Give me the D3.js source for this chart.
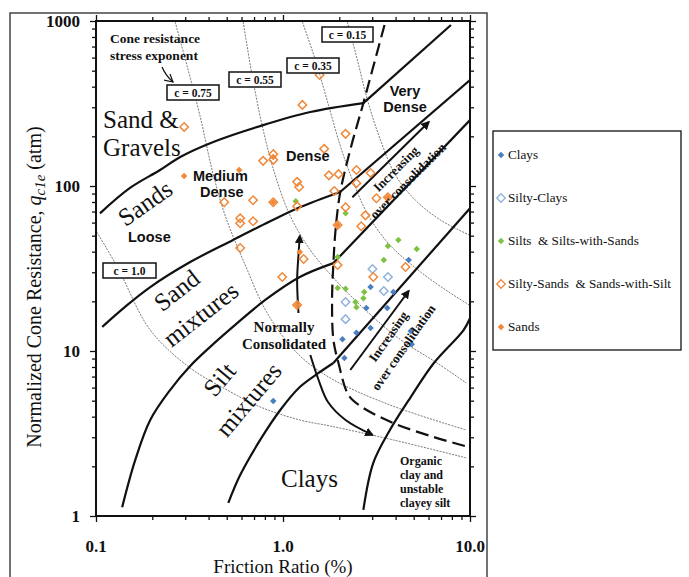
<!DOCTYPE html>
<html>
<head>
<meta charset="utf-8">
<script src="https://cdnjs.cloudflare.com/ajax/libs/d3/7.8.5/d3.min.js"></script>
<style>
body { margin: 0; background: #fff; }
svg text { font-family: "Liberation Serif", "Times New Roman", serif; fill: #111; }
.sans { font-family: "Liberation Sans", Arial, sans-serif !important; font-weight: bold; }
.bold { font-weight: bold; }
</style>
</head>
<body>
<div id="chart"></div>
<script>
// chart values: [friction ratio %, normalized cone resistance atm]
var clays = [[4.70,35.6],[2.94,24.4],[3.89,22.8],[2.79,18.2],[3.61,18.2],[2.94,13.8],
  [2.47,12.9],[2.08,11.8],[2.13,9.07],[4.82,13.2],[4.88,11.0],[0.887,4.98]];
var siltyClays = [[3.01,31.4],[3.64,28.1],[3.46,23.1],[2.16,19.8],[2.16,15.6]];
var silts = [[1.17,80.8],[2.16,68.3],[1.96,37.1],[3.64,43.3],[4.14,47.1],[5.19,41.5],
  [3.46,35.6],[1.96,24.1],[2.16,23.8],[2.72,22.8],[2.69,20.9],[2.44,19.8],[2.47,18.4]];
var siltySands = [[0.296,228],[1.27,310],[1.57,471],[2.16,207],[1.66,168],[0.783,142],
  [0.887,156],[0.887,144],[1.19,106],[1.22,98.6],[1.76,116],[1.98,118],[2.47,125],
  [2.94,120],[1.88,93.3],[2.47,104],[3.16,84.3],[3.64,85.5],[2.16,74.3],[2.76,66.4],
  [1.96,58.0],[2.62,57.0],[0.485,79.7],[0.692,82.0],[0.887,79.7],[1.19,75.3],
  [0.590,63.7],[0.590,59.5],[0.692,61.1],[0.590,42.1],[1.29,36.1],[0.991,28.1],
  [1.19,19.0],[1.96,33.2],[3.04,28.1],[4.52,32.3]];
var sands = [[0.296,115],[0.583,125],[0.887,150],[0.887,79.7],[1.23,39.8],
  [1.19,19.0],[3.64,85.5],[1.96,58.0]];

// zone boundaries
var sandGravel = [[0.105,68.3],[0.152,97.3],[0.220,125],[0.282,150],[0.424,185],[0.783,234],[1.40,281],[2.69,318]];
var veryDense = [[2.69,318],[7.91,946]];
var sandsLower = [[0.108,14.0],[0.143,18.5],[0.195,24.4],[0.319,34.6],[0.541,47.1],[0.854,61.1],[1.23,74.3],[2.02,92.0]];
var sandsLowerOC = [[2.02,92.0],[10,439]];
var sandMix = [[0.138,1.13],[0.162,2.18],[0.195,3.82],[0.249,5.80],[0.319,8.11],[0.408,10.6],[0.555,14.4],[0.804,20.4],[1.23,28.1],[1.86,34.1]];
var sandMixOC = [[1.86,34.1],[10,251]];
var siltMix = [[0.510,1.20],[0.590,1.77],[0.755,2.89],[0.967,4.39],[1.23,6.05],[1.55,7.36],[1.86,8.46]];
var siltMixOC = [[1.86,8.46],[10,73.3]];
var organic = [[2.69,1.09],[3.04,2.10],[3.73,3.32],[4.82,5.26],[6.41,8.46],[9.24,13.4],[10,15.8]];
var ncLimit = [[3.49,946],[2.69,318],[2.29,166],[2.02,90.7],[1.91,54.1],[1.86,34.1],[1.83,20.4],
  [1.86,11.7],[1.98,8.46],[2.24,5.41],[2.59,4.64],[3.89,3.66],[6.41,3.01],[9.79,2.62]];

// arrows
var ocUpper = [[2.35,85.5],[6.02,244]];
var ocLower = [[2.29,7.67],[4.70,23.1]];
var ncUp = [[1.21,17.0],[1.19,26.9],[1.21,38.2],[1.23,49.8]];
var ncDown = [[1.40,9.46],[1.55,6.67],[1.74,4.91],[2.16,3.82],[3.01,3.10]];

// cone resistance stress exponent contours
var c100 = [[0.101,52.6],[0.131,31.8],[0.195,13.4],[0.319,7.89],[0.503,5.80],[0.755,4.58],[1.23,3.82],[1.79,3.51],[3.89,2.89],[9.55,2.25]];
var c075 = [[0.265,986],[0.311,505],[0.361,262],[0.418,125],[0.490,66.4],[0.628,33.2],[0.823,17.0],[1.19,9.72],[1.79,6.86],[3.73,4.71],[9.55,3.32]];
var c055 = [[0.613,986],[0.683,471],[0.783,219],[0.909,116],[1.09,66.4],[1.40,40.9],[1.91,26.9],[2.76,17.7],[4.25,11.7],[6.54,8.58],[9.55,6.40]];
var c035 = [[1.27,986],[1.49,580],[1.72,332],[2.02,177],[2.35,109],[2.86,66.4],[3.73,43.9],[5.45,30.1],[7.43,23.4],[9.91,19.0]];
var c015 = [[2.21,986],[2.50,580],[2.83,332],[3.32,190],[4.00,116],[5.11,82.0],[6.98,62.0],[9.91,50.5]];

var xMajor = [0.1, 1, 10];
var xLabels = ["0.1", "1.0", "10.0"];
var yMajor = [1, 10, 100, 1000];
var yLabels = ["1", "10", "100", "1000"];

var legendNames = ["Clays", "Silty-Clays", "Silts  & Silts-with-Sands", "Silty-Sands  & Sands-with-Silt", "Sands"];

var svgWidth = 689;
var svgHeight = 577;
var margin = {top: 21, right: 219, bottom: 61, left: 96};
var width = svgWidth - margin.left - margin.right;
var height = svgHeight - margin.top - margin.bottom;

var svg = d3.select("#chart").append("svg")
    .attr("width", svgWidth)
    .attr("height", svgHeight);

// outer frame
svg.append("path")
    .attr("d", "M10,577V13H487V577")
    .attr("fill", "none").attr("stroke", "#444").attr("stroke-width", 1.5);

var defs = svg.append("defs");
defs.append("marker").attr("id", "head")
    .attr("viewBox", "0 0 10 10").attr("refX", 8).attr("refY", 5)
    .attr("markerWidth", 9).attr("markerHeight", 9).attr("markerUnits", "userSpaceOnUse")
    .attr("orient", "auto")
    .append("path").attr("d", "M0,0L10,5L0,10z").attr("fill", "#111");
defs.append("marker").attr("id", "vhead")
    .attr("viewBox", "0 0 10 10").attr("refX", 9).attr("refY", 5)
    .attr("markerWidth", 9).attr("markerHeight", 9).attr("markerUnits", "userSpaceOnUse")
    .attr("orient", "auto")
    .append("path").attr("d", "M0,0L9,5L0,10").attr("fill", "none").attr("stroke", "#111").attr("stroke-width", 1.3);

var chartGroup = svg.append("g")
    .attr("transform", `translate(${margin.left}, ${margin.top})`);

var x = d3.scaleLog().domain([0.1, 10]).range([0, width]);
var y = d3.scaleLog().domain([1, 1000]).range([height, 0]);

var minorX = [], minorY = [];
[0.1, 1].forEach(function(d) { for (var k = 2; k < 10; k++) minorX.push(d * k); });
[1, 10, 100].forEach(function(d) { for (var k = 2; k < 10; k++) minorY.push(d * k); });

function axisStyle(g) {
    g.select(".domain").remove();
    g.selectAll("line").attr("stroke", "#111").attr("stroke-width", 1.3);
}

// ticks on all four sides
chartGroup.append("g").attr("transform", `translate(0,${height})`)
    .call(d3.axisBottom(x).tickValues(xMajor).tickSize(6).tickFormat("")).call(axisStyle);
chartGroup.append("g").attr("transform", `translate(0,${height})`)
    .call(d3.axisBottom(x).tickValues(minorX).tickSize(4).tickFormat("")).call(axisStyle);
chartGroup.append("g")
    .call(d3.axisTop(x).tickValues(xMajor).tickSize(6).tickFormat("")).call(axisStyle);
chartGroup.append("g")
    .call(d3.axisTop(x).tickValues(minorX).tickSize(4).tickFormat("")).call(axisStyle);
chartGroup.append("g")
    .call(d3.axisLeft(y).tickValues(yMajor).tickSize(6).tickFormat("")).call(axisStyle);
chartGroup.append("g")
    .call(d3.axisLeft(y).tickValues(minorY).tickSize(4).tickFormat("")).call(axisStyle);
chartGroup.append("g").attr("transform", `translate(${width},0)`)
    .call(d3.axisRight(y).tickValues(yMajor).tickSize(6).tickFormat("")).call(axisStyle);
chartGroup.append("g").attr("transform", `translate(${width},0)`)
    .call(d3.axisRight(y).tickValues(minorY).tickSize(4).tickFormat("")).call(axisStyle);

// tick labels
chartGroup.selectAll("text.xlab").data(xMajor).enter().append("text")
    .attr("class", "bold").attr("x", d => x(d)).attr("y", height + 36)
    .attr("text-anchor", "middle").style("font-size", "17px")
    .text((d, i) => xLabels[i]);
chartGroup.selectAll("text.ylab").data(yMajor).enter().append("text")
    .attr("class", "bold").attr("x", -16).attr("y", d => y(d) + 6)
    .attr("text-anchor", "end").style("font-size", "17px")
    .text((d, i) => yLabels[i]);

// contours of stress exponent
var line = d3.line().x(d => x(d[0])).y(d => y(d[1])).curve(d3.curveCatmullRom.alpha(0.5));
var straight = d3.line().x(d => x(d[0])).y(d => y(d[1]));

var clip = defs.append("clipPath").attr("id", "plotclip");
clip.append("rect").attr("width", width).attr("height", height);
var inner = chartGroup.append("g").attr("clip-path", "url(#plotclip)");

[c100, c075, c055, c035, c015].forEach(function(c) {
    inner.append("path").attr("d", line(c))
        .attr("fill", "none").attr("stroke", "#555").attr("stroke-width", 0.8)
        .attr("stroke-dasharray", "2,1.2");
});

// boundaries
[sandGravel, sandsLower, sandMix, siltMix, organic].forEach(function(b) {
    inner.append("path").attr("d", line(b))
        .attr("fill", "none").attr("stroke", "#111").attr("stroke-width", 2.2);
});
[veryDense, sandsLowerOC, sandMixOC, siltMixOC].forEach(function(b) {
    inner.append("path").attr("d", straight(b))
        .attr("fill", "none").attr("stroke", "#111").attr("stroke-width", 2.2);
});
inner.append("path").attr("d", line(ncLimit))
    .attr("fill", "none").attr("stroke", "#111").attr("stroke-width", 2.2)
    .attr("stroke-dasharray", "13,6");

[ocUpper, ocLower].forEach(function(a) {
    inner.append("path").attr("d", straight(a))
        .attr("fill", "none").attr("stroke", "#111").attr("stroke-width", 2)
        .attr("marker-end", "url(#head)");
});
[ncUp, ncDown].forEach(function(a) {
    inner.append("path").attr("d", line(a))
        .attr("fill", "none").attr("stroke", "#111").attr("stroke-width", 2)
        .attr("marker-end", "url(#head)");
});

// frame of plot
chartGroup.append("rect").attr("width", width).attr("height", height)
    .attr("fill", "none").attr("stroke", "#111").attr("stroke-width", 2);

// markers
var openDiamond = d3.symbol().type(d3.symbolSquare).size(36);
var smallDiamond = d3.symbol().type(d3.symbolSquare).size(21);
var series = [
    {data: clays, fill: "#4a7fc0", stroke: "none", sym: smallDiamond},
    {data: siltyClays, fill: "#fff", stroke: "#8fb2dc", sym: openDiamond},
    {data: silts, fill: "#7fc241", stroke: "none", sym: smallDiamond},
    {data: siltySands, fill: "none", stroke: "#f0883a", sym: openDiamond},
    {data: sands, fill: "#f0883a", stroke: "none", sym: smallDiamond}
];
series.forEach(function(s) {
    chartGroup.selectAll(null).data(s.data).enter().append("path")
        .attr("d", s.sym)
        .attr("transform", d => `translate(${x(d[0])},${y(d[1])}) rotate(45)`)
        .attr("fill", s.fill).attr("stroke", s.stroke).attr("stroke-width", 1.5);
});

// annotation text (svg coordinates)
function label(t, px, py, size, cls, rot, anchor) {
    var el = svg.append("text").attr("x", px).attr("y", py)
        .style("font-size", size + "px").text(t);
    if (cls) el.attr("class", cls);
    if (anchor) el.attr("text-anchor", anchor);
    if (rot) el.attr("transform", `rotate(${rot},${px},${py})`);
    return el;
}
label("Cone resistance", 110, 43, 13.5, "bold");
label("stress exponent", 110, 60, 13.5, "bold");
svg.append("path").attr("d", "M162,67Q166,76 173,82").attr("fill", "none")
    .attr("stroke", "#111").attr("stroke-width", 1.3).attr("marker-end", "url(#vhead)");

var boxes = [["c = 0.75", 167, 85, 52], ["c = 0.55", 229, 72, 52], ["c = 0.35", 287, 58, 52],
    ["c = 0.15", 322, 27, 51], ["c = 1.0", 103, 263, 53]];
boxes.forEach(function(b) {
    svg.append("rect").attr("x", b[1]).attr("y", b[2]).attr("width", b[3]).attr("height", 15)
        .attr("fill", "#fff").attr("stroke", "#111").attr("stroke-width", 1.5);
    label(b[0], b[1] + b[3] / 2, b[2] + 11.5, 11.5, "bold", 0, "middle");
});

label("Sand &", 103, 128, 25);
label("Gravels", 103, 156, 25);
label("Sands", 150, 210, 25, null, -35, "middle");
label("Sand", 182, 297, 25, null, -38, "middle");
label("mixtures", 206, 321, 25, null, -38, "middle");
label("Silt", 226, 385, 25, null, -50, "middle");
label("mixtures", 255, 405, 25, null, -50, "middle");
label("Clays", 281, 487, 25);

label("Medium", 193, 181, 14.5, "sans");
label("Dense", 200, 197, 14.5, "sans");
label("Loose", 128, 242, 14.5, "sans");
label("Dense", 286, 161, 14.5, "sans");
label("Very", 405, 96, 14.5, "sans", 0, "middle");
label("Dense", 405, 112, 14.5, "sans", 0, "middle");

label("Normally", 284, 332, 15, "bold", 0, "middle");
label("Consolidated", 284, 349, 15, "bold", 0, "middle");

label("Increasing", 399, 172, 13, "bold", -45, "middle");
label("over consolidation", 411, 184, 13, "bold", -45, "middle");
label("Increasing", 392, 339, 13, "bold", -55, "middle");
label("over consolidation", 407, 350, 13, "bold", -55, "middle");

["Organic", "clay and", "unstable", "clayey silt"].forEach(function(t, i) {
    label(t, 400, 465 + i * 14, 12, "bold");
});

// axis titles
label("Friction Ratio (%)", 283, 573, 19, null, 0, "middle");
var yt = svg.append("text").attr("transform", "translate(41,287) rotate(-90)")
    .attr("text-anchor", "middle").style("font-size", "20px");
yt.append("tspan").text("Normalized Cone Resistance, ");
yt.append("tspan").style("font-style", "italic").text("q");
yt.append("tspan").style("font-style", "italic").style("font-size", "15px").attr("dy", 4).text("c1e");
yt.append("tspan").attr("dy", -4).text(" (atm)");

// legend
var legend = svg.append("g");
legend.append("rect").attr("x", 493).attr("y", 131).attr("width", 188).attr("height", 219)
    .attr("fill", "#fff").attr("stroke", "#111").attr("stroke-width", 1.3);
legendNames.forEach(function(n, i) {
    var s = series[i];
    var ly = 155 + i * 43;
    legend.append("path").attr("d", s.sym)
        .attr("transform", `translate(501,${ly}) rotate(45)`)
        .attr("fill", s.fill).attr("stroke", s.stroke).attr("stroke-width", 1.3);
    legend.append("text").attr("x", 508).attr("y", ly + 4)
        .style("font-size", "13.2px").attr("xml:space", "preserve").text(n);
});
</script>
</body>
</html>
